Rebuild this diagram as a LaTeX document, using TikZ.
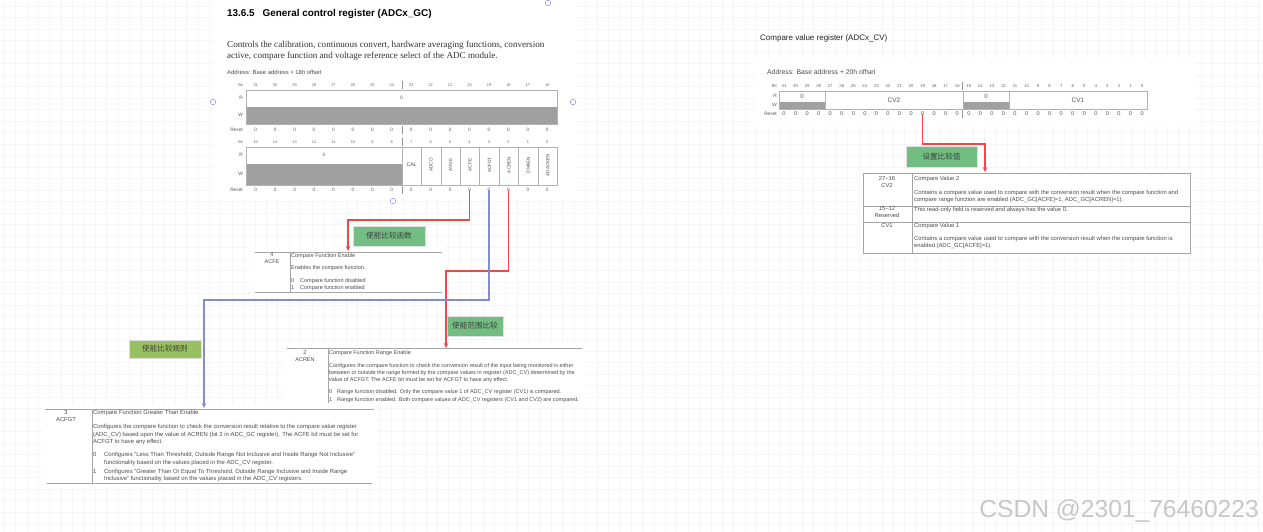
\documentclass[tikz,border=0pt]{standalone}
\usepackage{fontspec}
\setmainfont{Liberation Sans}
\newfontfamily\serifpara{Liberation Serif}
\newfontfamily\cjk{Noto Sans CJK SC}
\usetikzlibrary{arrows.meta, positioning}
\newcommand{\fs}[2]{\fontsize{#1}{#2}\selectfont}
\definecolor{redln}{RGB}{240,72,72}
\definecolor{blueln}{RGB}{130,140,210}
\definecolor{grn}{RGB}{114,189,130}
\definecolor{olv}{RGB}{152,192,96}
\definecolor{regfill}{RGB}{160,160,160}
\definecolor{gridc}{RGB}{245,245,245}

\begin{document}
\begin{tikzpicture}[
    x=1pt, y=-1pt,
    bt/.style={font=\fs{3.9}{4}, text=black!60, inner sep=0pt},
    rv/.style={font=\fs{4.8}{5}, text=black!65, inner sep=0pt},
    fld/.style={font=\fs{4.6}{5}, text=black!70, inner sep=0pt},
    reg/.style={draw=black!30, line width=0.7pt},
    rule/.style={draw=black!35, line width=0.8pt},
    tx/.style={anchor=north west, inner sep=0pt, align=left, text=black!70, font=\fs{5.5}{7}},
    lb/.style={rectangle, draw=black!12, fill=grn, minimum width=72pt, minimum height=20pt, inner sep=0pt, font=\cjk\fs{7.6}{8}, text=black!75},
    a/.style={-{Stealth[length=5pt, width=4.5pt]}, line width=1.1pt, redln},
    hd/.style={draw=blue!45, line width=0.5pt, fill=white},
]

% Background
\fill[white] (0,0) rectangle (1263,532);
\path[use as bounding box] (0,0) rectangle (1263,532);
\foreach \gx in {4,15.4,...,1263} \draw[gridc, line width=0.5pt] (\gx,0) -- (\gx,532);
\foreach \gy in {6,17.5,...,532} \draw[gridc, line width=0.5pt] (0,\gy) -- (1263,\gy);

% Screenshot and table backgrounds
\fill[white] (213,0) rectangle (576,200);
\fill[white] (755,58) rectangle (1195,125);
\fill[white] (250,247) rectangle (446,296);
\fill[white] (283,343) rectangle (586,406);
\fill[white] (42,404) rectangle (378,488);
\fill[white] (860,170) rectangle (1192,256);

% GC register
\node[font=\bfseries\fs{9.9}{11}, anchor=west, inner sep=0pt] (gcTitle) at (227,14) {13.6.5\hspace{8pt}General control register (ADCx\_GC)};
\node[tx, font=\serifpara\fs{9.1}{11}, text=black!80] (gcDesc) at (227,40.5) {Controls the calibration, continuous convert, hardware averaging functions, conversion\\active, compare function and voltage reference select of the ADC module.};
\node[tx, font=\fs{5.9}{6}, anchor=west] (gcAddr) at (227,72) {Address: Base address + 18h offset};

\foreach \i in {0,...,15}{
  \pgfmathtruncatemacro\b{31-\i}
  \node[bt] (bu\b) at ({246+19.44*(\i+0.5)},85) {\b};
  \node[rv] (ru\b) at ({246+19.44*(\i+0.5)},130) {0};
  \pgfmathtruncatemacro\c{15-\i}
  \node[bt] (bl\c) at ({246+19.44*(\i+0.5)},142) {\c};
  \node[rv] (rl\c) at ({246+19.44*(\i+0.5)},190) {0};
}
\node[bt, anchor=east] (bitU) at (243,85) {Bit};
\node[rv, anchor=east] (rU) at (243,98) {R};
\node[rv, anchor=east] (wU) at (243,115) {W};
\node[rv, anchor=east] (resU) at (243,130) {Reset};
\node[bt, anchor=east] (bitL) at (243,142) {Bit};
\node[rv, anchor=east] (rL) at (243,155) {R};
\node[rv, anchor=east] (wL) at (243,174) {W};
\node[rv, anchor=east] (resL) at (243,190) {Reset};

\fill[regfill] (246,107) rectangle (557,124);
\draw[reg] (246,90) rectangle (557,124);
\node[rv] (zU) at (401.5,98) {0};
\draw[black!40, line width=0.5pt] (402,81) -- (402,89) (402,126) -- (402,134);

\fill[regfill] (246,164) rectangle (402,185);
\draw[reg] (246,147) rectangle (557,185);
\foreach \k in {1,...,7} \draw[reg] ({402+19.44*\k},147) -- ({402+19.44*\k},185);
\draw[reg] (402,147) -- (402,185);
\node[rv] (zL) at (324,155) {0};
\draw[black!40, line width=0.5pt] (402,138) -- (402,146) (402,186) -- (402,194);
\node[fld, font=\fs{5.3}{5}] (fCAL) at (411.7,165) {CAL};
\foreach \n [count=\k] in {ADCO,AVGE,ACFE,ACFGT,ACREN,DMAEN,ADACKEN}
  \node[fld, rotate=90] (f\n) at ({402+19.44*(\k+0.5)},165) {\n};

% CV register
\node[font=\fs{8}{9}, anchor=west, inner sep=0pt, text=black!85] (cvTitle) at (760,38) {Compare value register (ADCx\_CV)};
\node[tx, font=\fs{6.8}{7}, anchor=west] (cvAddr) at (767,72) {Address: Base address + 20h offset};
\foreach \i in {0,...,31}{
  \pgfmathtruncatemacro\b{31-\i}
  \node[bt, font=\fs{4.3}{5}] (cb\b) at ({784+11.55*\i},86) {\b};
  \node[rv, font=\fs{5.6}{6}] (cr\b) at ({784+11.55*\i},114) {0};
}
\node[bt, font=\fs{4.3}{5}, anchor=east] (bitC) at (777,86) {Bit};
\node[rv, anchor=east] (rC) at (777,96) {R};
\node[rv, anchor=east] (wC) at (777,105) {W};
\node[rv, anchor=east] (resC) at (777,114) {Reset};
\fill[regfill] (779,102) rectangle (825,109);
\fill[regfill] (963,102) rectangle (1009,109);
\draw[reg] (779,91) rectangle (1147,109);
\draw[reg] (825,91) -- (825,109) (963,91) -- (963,109) (1009,91) -- (1009,109);
\draw[black!40, line width=0.5pt] (962,82) -- (962,90) (962,110) -- (962,118);
\node[rv, font=\fs{6}{6}] (zC1) at (802,96) {0};
\node[rv, font=\fs{6}{6}] (zC2) at (986,96) {0};
\node[rv, font=\fs{6.5}{7}] (cvTwo) at (894,100) {CV2};
\node[rv, font=\fs{6.5}{7}] (cvOne) at (1078,100) {CV1};

% ACFE field
\draw[rule] (255,252) -- (442,252) (255,292) -- (442,292) (290,252) -- (290,292);
\coordinate (acfeTop) at (348,251);
\node[tx, anchor=north, align=center] (acfeBit) at (272,253) {4\\ACFE};
\node[tx] (acfeTxt) at (291,253) {Compare Function Enable\\[5pt]Enables the compare function.\\[6pt]\makebox[9pt][l]{0}Compare function disabled\\\makebox[9pt][l]{1}Compare function enabled};

% ACREN field
\draw[rule] (287,348) -- (582,348) (328,348) -- (328,403);
\coordinate (acrenTop) at (446,348);
\node[tx, anchor=north, align=center] (acrenBit) at (305,350) {2\\ACREN};
\node[tx, font=\fs{5.5}{7}] (acrenTxt) at (329,350) {Compare Function Range Enable\\[6pt]Configures the compare function to check the conversion result of the input being monitored is either\\between or outside the range formed by the compare values in register (ADC\_CV) determined by the\\value of ACFGT. The ACFE bit must be set for ACFGT to have any effect.\\[5pt]\makebox[8pt][l]{0}Range function disabled. Only the compare value 1 of ADC\_CV register (CV1) is compared.\\[1pt]\makebox[8pt][l]{1}Range function enabled. Both compare values of ADC\_CV registers (CV1 and CV2) are compared.};

% ACFGT field
\draw[rule] (45,409) -- (374,409) (47,483) -- (372,483) (92,409) -- (92,483);
\coordinate (acfgtTop) at (204,408);
\node[tx, anchor=north, align=center, font=\fs{5.8}{7.5}] (acfgtBit) at (66,410) {3\\ACFGT};
\node[tx, font=\fs{5.9}{7.5}] (acfgtTxt) at (93,410.5) {Compare Function Greater Than Enable\\[6.5pt]Configures the compare function to check the conversion result relative to the compare value register\\(ADC\_CV) based upon the value of ACREN (bit 2 in ADC\_GC register). The ACFE bit must be set for\\ACFGT to have any effect.\\[5.5pt]\makebox[11pt][l]{0}Configures "Less Than Threshold, Outside Range Not Inclusive and Inside Range Not Inclusive"\\\hspace*{11pt}functionality based on the values placed in the ADC\_CV register.\\[1.5pt]\makebox[11pt][l]{1}Configures "Greater Than Or Equal To Threshold, Outside Range Inclusive and Inside Range\\\hspace*{11pt}Inclusive" functionality based on the values placed in the ADC\_CV registers.};

% CV fields
\draw[rule] (863,173) rectangle (1190,253);
\draw[rule] (863,206) -- (1190,206) (863,222) -- (1190,222) (912,173) -- (912,253);
\coordinate (cvTop) at (985,172);
\node[tx, anchor=north, align=center, font=\fs{5.8}{7}] (cvBitA) at (887,176) {27–16\\CV2};
\node[tx, anchor=north, align=center, font=\fs{5.8}{7}] (cvBitB) at (887,206.5) {15–12\\Reserved};
\node[tx, anchor=north, align=center, font=\fs{5.8}{7}] (cvBitC) at (887,223.5) {CV1};
\node[tx, font=\fs{5.85}{7}] (cvTxtA) at (914,176) {Compare Value 2\\[7pt]Contains a compare value used to compare with the conversion result when the compare function and\\compare range function are enabled (ADC\_GC[ACFE]=1, ADC\_GC[ACREN]=1).};
\node[tx, font=\fs{5.85}{7}] (cvTxtB) at (914,207) {This read-only field is reserved and always has the value 0.};
\node[tx, font=\fs{5.85}{7}] (cvTxtC) at (914,223) {Compare Value 1\\[6pt]Contains a compare value used to compare with the conversion result when the compare function is\\enabled (ADC\_GC[ACFE]=1).};

% Labels
\node[lb] (lblFe) at (389,236) {使能比较函数};
\node[lb, minimum width=56pt] (lblRen) at (475,326) {使能范围比较};
\node[lb, fill=olv, minimum height=18pt] (lblGt) at (165,349) {使能比较规则};
\node[lb, minimum width=71pt, minimum height=21pt] (lblCv) at (941.5,157) {设置比较值};

% Arrows
\draw[a] (rl4.center) -- ++(0,30) -| (acfeTop);
\draw[a] (rl2.center) -- ++(0,81) -| (acrenTop);
\draw[a, blueln] (rl3.center) -- ++(0,110) -| (acfgtTop);
\draw[a] (cr19.center) -- ++(0,30) -| (cvTop);

% Handles
\draw[hd] (213,102) circle (2.8);
\draw[hd] (573,102) circle (2.8);
\draw[hd] (393,201) circle (2.8);
\draw[hd] (548,3) circle (2.8);

% Watermark
\node[font=\fs{24.6}{26}, text=black!22, anchor=east, inner sep=0pt] (wm) at (1259,511) {CSDN @2301\_76460223};
\end{tikzpicture}
\end{document}
